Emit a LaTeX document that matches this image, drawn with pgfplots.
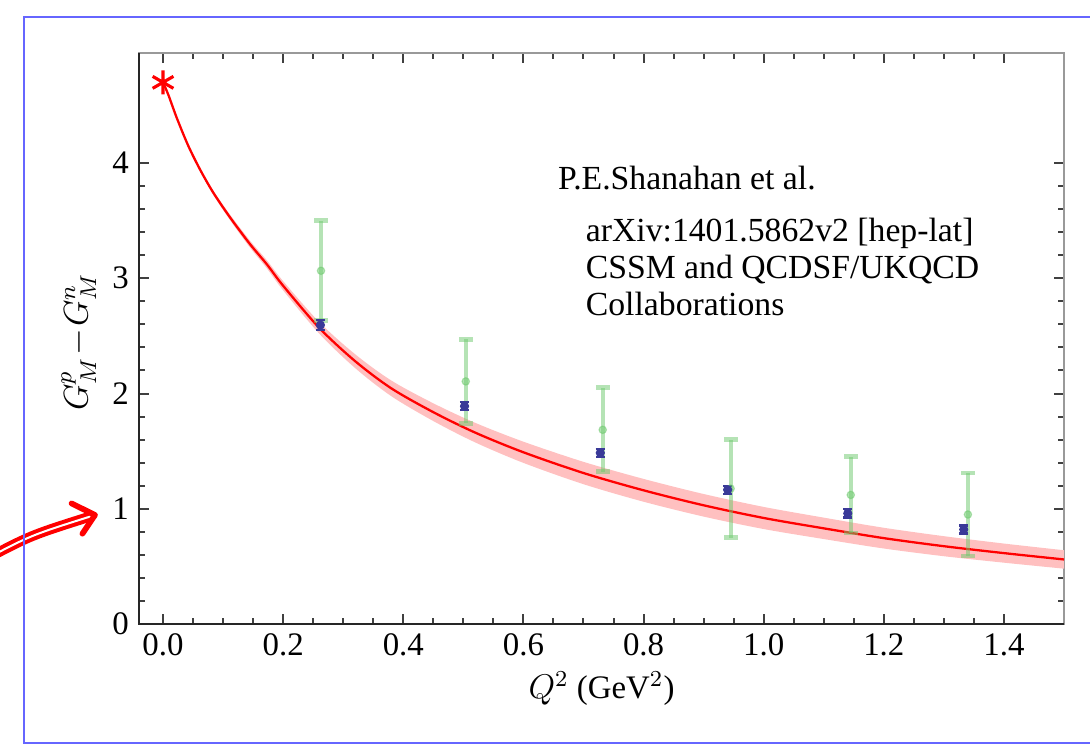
\documentclass[border=0pt]{standalone}
\usepackage{fontspec}
\setmainfont{Liberation Serif}
\usepackage{pgfplots}
\usepackage{pgfplotstable}
\pgfplotsset{compat=1.18}
\usepgfplotslibrary{fillbetween}

\definecolor{frameblue}{rgb}{0.40,0.40,1.00}
\definecolor{latblue}{HTML}{3A3A98}
\definecolor{latgreen}{HTML}{6CC86C}
\definecolor{bandred}{HTML}{FFC0C0}

% chiral fit: central value and band edges
\pgfplotstableread{
x     y     lo    hi
0.000 4.700 4.700 4.700
0.009 4.590 4.586 4.594
0.023 4.390 4.382 4.398
0.042 4.150 4.138 4.162
0.062 3.940 3.925 3.955
0.084 3.740 3.721 3.759
0.112 3.525 3.501 3.549
0.145 3.295 3.265 3.325
0.173 3.120 3.085 3.155
0.200 2.935 2.895 2.975
0.260 2.570 2.520 2.620
0.320 2.280 2.220 2.340
0.380 2.045 1.977 2.113
0.450 1.838 1.761 1.915
0.520 1.660 1.575 1.745
0.600 1.490 1.398 1.582
0.700 1.310 1.213 1.407
0.800 1.160 1.061 1.259
0.900 1.030 0.932 1.128
1.000 0.920 0.824 1.016
1.100 0.830 0.737 0.923
1.200 0.745 0.655 0.835
1.300 0.675 0.588 0.762
1.400 0.615 0.532 0.698
1.500 0.560 0.480 0.640
}\fitdata

% lattice points (small errors)
\pgfplotstableread{
x     y     e
0.262 2.594 0.045
0.502 1.890 0.035
0.728 1.485 0.035
0.940 1.165 0.035
1.140 0.960 0.035
1.333 0.820 0.035
}\latdata

% lattice points (large errors)
\pgfplotstableread{
x     y     e
0.263 3.065 0.435
0.504 2.105 0.365
0.732 1.685 0.365
0.945 1.175 0.425
1.145 1.120 0.330
1.340 0.950 0.360
}\simdata

\begin{document}
\begin{tikzpicture}
\begin{axis}[
  name=ax,
  at={(0,0)}, anchor=south west,
  scale only axis,
  width=323.75pt, height=199.85pt,
  xmin=-0.04, xmax=1.5,
  ymin=0, ymax=4.955,
  xtick={0,0.2,0.4,0.6,0.8,1.0,1.2,1.4},
  ytick={0,1,2,3,4},
  minor x tick num=3,
  minor y tick num=4,
  tick align=inside,
  major tick length=3.5pt,
  minor tick length=2.1pt,
  tick style={black!75, line width=0.7pt},
  axis line style={black!40, line width=0.7pt},
  /pgf/number format/assume math mode=true,
  ticklabel style={font=\fontsize{11.5}{13}\selectfont},
  xticklabel style={/pgf/number format/.cd, fixed, fixed zerofill, precision=1},
  yticklabel style={/pgf/number format/.cd, fixed, precision=0},
  xlabel={$Q^2$ (GeV$^2$)},
  ylabel={$G^{p}_{M}\!-\!G^{n}_{M}$},
  label style={font=\fontsize{11.5}{13}\selectfont},
  xlabel style={at={(axis description cs:0.5,-0.113)}, anchor=center},
  ylabel style={at={(axis description cs:-0.065,0.494)}, anchor=center},
  clip=false,
]
\addplot[draw=none, name path=hi, smooth, tension=0.5, forget plot] table[x=x, y=hi] {\fitdata};
\addplot[draw=none, name path=lo, smooth, tension=0.5, forget plot] table[x=x, y=lo] {\fitdata};
\addplot[bandred, draw=none, forget plot] fill between[of=hi and lo];
\addplot[red, line width=0.8pt, smooth, tension=0.5] table[x=x, y=y] {\fitdata};

\addplot[only marks, latgreen, opacity=0.5,
  mark=*, mark size=1.3pt,
  error bars/.cd, y dir=both, y explicit,
  error bar style={line width=1.3pt},
  error mark options={rotate=90, mark size=2.4pt, line width=1.7pt}]
  table[x=x, y=y, y error=e] {\simdata};

\addplot[only marks, latblue,
  mark=*, mark size=1.4pt,
  error bars/.cd, y dir=both, y explicit,
  error bar style={line width=0.8pt},
  error mark options={rotate=90, mark size=1.6pt, line width=0.8pt}]
  table[x=x, y=y, y error=e] {\latdata};

\addplot[only marks, red, mark=asterisk, mark size=4.2pt,
  mark options={line width=1.1pt}] coordinates {(0,4.70)};

\node[anchor=base west, inner sep=0pt, font=\fontsize{11.8}{13}\selectfont]
  at (axis cs:0.657,3.774) {P.E.Shanahan et al.};
\node[anchor=base west, inner sep=0pt, font=\fontsize{11.8}{13}\selectfont]
  at (axis cs:0.703,3.323) {arXiv:1401.5862v2 [hep-lat]};
\node[anchor=base west, inner sep=0pt, font=\fontsize{11.8}{13}\selectfont]
  at (axis cs:0.703,3.000) {CSSM and QCDSF/UKQCD};
\node[anchor=base west, inner sep=0pt, font=\fontsize{11.8}{13}\selectfont]
  at (axis cs:0.703,2.680) {Collaborations};
\end{axis}

% dark left and bottom frame lines
\draw[black!85, line width=0.7pt] (ax.north west) -- (ax.south west) -- (ax.south east);

% hand-drawn arrow pointing at 1
\draw[red, line width=1.4pt, double=white, double distance=0.7pt, line cap=round]
  (-55pt,22pt) .. controls (-38pt,31pt) .. (-16.8pt,37.7pt);
\draw[red, line width=2pt, line cap=round, line join=round]
  (-23.6pt,42.2pt) -- (-15.4pt,38.15pt) -- (-19.8pt,31.6pt);

% outer frame, running off the right edge
\draw[frameblue, line width=0.7pt] (-40.25pt,-41.65pt) rectangle (345pt,212.45pt);

\pgfresetboundingbox
\useasboundingbox (-48.65pt,-42.7pt) rectangle (332.85pt,218.4pt);
\end{tikzpicture}
\end{document}
